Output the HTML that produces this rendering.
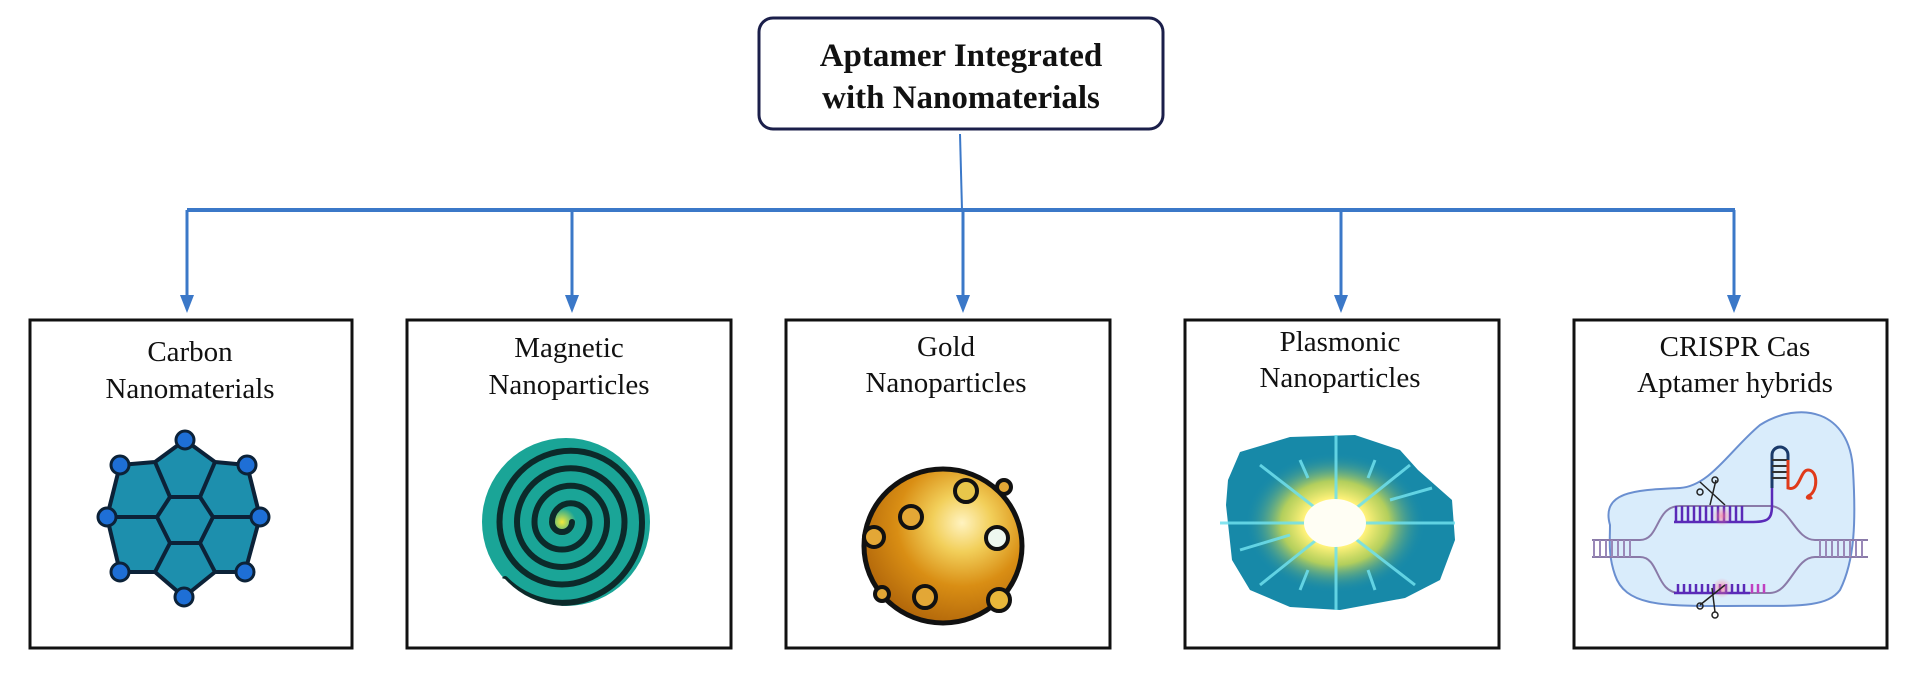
<!DOCTYPE html>
<html><head><meta charset="utf-8"><style>
html,body{margin:0;padding:0;background:#fff;}
svg{display:block;}
text{font-family:"Liberation Serif",serif;fill:#111;}
</style></head><body>
<svg width="1916" height="680" viewBox="0 0 1916 680" xmlns="http://www.w3.org/2000/svg">
<defs>
<radialGradient id="glow" cx="0.5" cy="0.5" r="0.5">
<stop offset="0" stop-color="#fffbe0"/><stop offset="0.35" stop-color="#fff27a"/><stop offset="0.6" stop-color="#d9e04a" stop-opacity="0.8"/><stop offset="1" stop-color="#1a8aa8" stop-opacity="0"/>
</radialGradient>
<radialGradient id="gold" cx="0.62" cy="0.35" r="0.75">
<stop offset="0" stop-color="#fff3c0"/><stop offset="0.25" stop-color="#f2cf5a"/><stop offset="0.55" stop-color="#d98e14"/><stop offset="1" stop-color="#a85d08"/>
</radialGradient>
<radialGradient id="spc" cx="0.5" cy="0.5" r="0.5">
<stop offset="0" stop-color="#f3ea3a"/><stop offset="1" stop-color="#1aa597"/>
</radialGradient>
<radialGradient id="pink" cx="0.5" cy="0.5" r="0.5"><stop offset="0" stop-color="#ff7a9a" stop-opacity="0.7"/><stop offset="1" stop-color="#ff7a9a" stop-opacity="0"/></radialGradient>
</defs>

<rect x="759" y="18" width="404" height="111" rx="14" fill="#fff" stroke="#1b1f4a" stroke-width="3"/>
<text x="961" y="66" font-size="33" font-weight="bold" text-anchor="middle">Aptamer Integrated</text>
<text x="961" y="108" font-size="33" font-weight="bold" text-anchor="middle">with Nanomaterials</text>

<g stroke="#3b78c8" fill="none">
<line x1="960" y1="134" x2="962" y2="210" stroke-width="2"/>
<line x1="187" y1="210" x2="1735" y2="210" stroke-width="4"/>
<g stroke-width="3">
<line x1="187" y1="210" x2="187" y2="300"/>
<line x1="572" y1="210" x2="572" y2="300"/>
<line x1="963" y1="210" x2="963" y2="300"/>
<line x1="1341" y1="210" x2="1341" y2="300"/>
<line x1="1734" y1="210" x2="1734" y2="300"/>
</g>
</g>
<g fill="#3b78c8">
<polygon points="180,295 194,295 187,313"/>
<polygon points="565,295 579,295 572,313"/>
<polygon points="956,295 970,295 963,313"/>
<polygon points="1334,295 1348,295 1341,313"/>
<polygon points="1727,295 1741,295 1734,313"/>
</g>

<g fill="#fff" stroke="#111" stroke-width="3">
<rect x="30" y="320" width="322" height="328"/>
<rect x="407" y="320" width="324" height="328"/>
<rect x="786" y="320" width="324" height="328"/>
<rect x="1185" y="320" width="314" height="328"/>
<rect x="1574" y="320" width="313" height="328"/>
</g>

<g font-size="29" text-anchor="middle">
<text x="190" y="361">Carbon</text><text x="190" y="398">Nanomaterials</text>
<text x="569" y="357">Magnetic</text><text x="569" y="394">Nanoparticles</text>
<text x="946" y="356">Gold</text><text x="946" y="392">Nanoparticles</text>
<text x="1340" y="351">Plasmonic</text><text x="1340" y="387">Nanoparticles</text>
<text x="1735" y="356">CRISPR Cas</text><text x="1735" y="392">Aptamer hybrids</text>
</g>

<!-- carbon -->
<g stroke="#0c2238" stroke-width="4" fill="#1d8fad" stroke-linejoin="round">
<polygon points="185,440 215,462 247,465 260,517 245,572 215,572 184,597 155,572 120,572 107,517 120,465 155,462"/>
<polygon points="157,517 170,497 200,497 213,517 200,543 170,543"/>
<g fill="none">
<polyline points="155,462 170,497"/><polyline points="215,462 200,497"/>
<polyline points="107,517 157,517"/><polyline points="213,517 260,517"/>
<polyline points="170,543 155,572"/><polyline points="200,543 215,572"/>
</g>
</g>
<g fill="#1e6fd6" stroke="#0c2238" stroke-width="3">
<circle cx="185" cy="440" r="9"/><circle cx="120" cy="465" r="9"/><circle cx="247" cy="465" r="9"/>
<circle cx="107" cy="517" r="9"/><circle cx="260" cy="517" r="9"/>
<circle cx="120" cy="572" r="9"/><circle cx="245" cy="572" r="9"/><circle cx="184" cy="597" r="9"/>
</g>

<!-- magnetic spiral -->
<circle cx="566" cy="522" r="84" fill="#1aa597"/>
<circle cx="562" cy="522" r="14" fill="url(#spc)"/>
<path d="M572,522 A10,10 0 0 1 552,522 A18.75,18.75 0 0 1 589.5,522 A27.5,27.5 0 0 1 534.5,522 A36.25,36.25 0 0 1 607,522 A45,45 0 0 1 517,522 A53.75,53.75 0 0 1 624.5,522 A62.5,62.5 0 0 1 499.5,522 A71.25,71.25 0 0 1 642,522 A80,80 0 0 1 505,579" fill="none" stroke="#0c2a2a" stroke-width="6" stroke-linecap="round"/>
<path d="M505,579 A84,84 0 0 0 562,606 L565,612 L490,612 L490,575 Z" fill="#fff"/>

<!-- gold -->
<ellipse cx="943" cy="546" rx="79" ry="77" fill="url(#gold)" stroke="#111" stroke-width="5"/>
<g stroke="#111" stroke-width="4" fill="#e3a736">
<circle cx="966" cy="491" r="11" fill="#e8c64a"/><circle cx="911" cy="517" r="11"/><circle cx="997" cy="538" r="11" fill="#eef8f0"/>
<circle cx="874" cy="537" r="10"/><circle cx="1004" cy="487" r="7"/><circle cx="925" cy="597" r="11"/><circle cx="999" cy="600" r="11" fill="#e8b73a"/><circle cx="882" cy="594" r="7"/>
</g>

<!-- plasmonic -->
<polygon points="1240,452 1290,437 1355,435 1400,450 1418,470 1452,500 1455,540 1440,580 1405,598 1340,610 1290,607 1250,590 1232,560 1226,505 1228,480" fill="#1789a8"/>
<ellipse cx="1335" cy="523" rx="90" ry="70" fill="url(#glow)"/>
<g stroke="#6fe0ee" stroke-width="3" opacity="0.85">
<line x1="1336" y1="435" x2="1336" y2="610"/><line x1="1220" y1="523" x2="1455" y2="523"/>
<line x1="1260" y1="465" x2="1415" y2="585"/><line x1="1410" y1="465" x2="1260" y2="585"/>
<line x1="1240" y1="550" x2="1290" y2="535"/><line x1="1390" y1="500" x2="1432" y2="488"/>
<line x1="1300" y1="460" x2="1308" y2="478"/><line x1="1375" y1="460" x2="1368" y2="478"/>
<line x1="1300" y1="590" x2="1308" y2="570"/><line x1="1375" y1="590" x2="1368" y2="570"/>
</g>
<ellipse cx="1335" cy="523" rx="31" ry="24" fill="#fffef4"/>

<!-- CRISPR -->
<path d="M1610,525 C1600,490 1640,490 1680,488 C1710,486 1730,450 1760,425 C1800,400 1850,410 1853,470 C1856,520 1855,560 1840,590 C1825,610 1790,605 1720,606 C1660,606 1625,605 1615,575 C1608,555 1610,540 1610,525 Z" fill="#d9ecfb" stroke="#6a8fd0" stroke-width="2"/>
<g stroke="#8a7aa8" stroke-width="2" fill="none">
<path d="M1592,540 L1640,540 C1660,540 1655,506 1680,506 L1770,506 C1790,506 1795,540 1815,540 L1868,540"/>
<path d="M1592,557 L1640,557 C1660,557 1655,593 1680,593 L1770,593 C1790,593 1795,557 1815,557 L1868,557"/>
</g>
<g stroke="#9a88b8" stroke-width="2">
<path d="M1594,540v17M1600,540v17M1606,540v17M1612,540v17M1618,540v17M1624,540v17M1630,540v17M1820,540v17M1826,540v17M1832,540v17M1838,540v17M1844,540v17M1850,540v17M1856,540v17M1862,540v17"/>
</g>
<g stroke="#5a2ab8" stroke-width="2.5" fill="none">
<path d="M1674,522 L1750,522 C1768,522 1772,520 1772,505 L1772,488"/>
<path d="M1676,506v16M1682,506v16M1688,506v16M1694,506v16M1700,506v16M1706,506v16M1712,506v16M1718,506v16M1724,506v16M1730,506v16M1736,506v16M1742,506v16"/>
<path d="M1674,593 L1750,593"/>
<path d="M1678,584v9M1684,584v9M1690,584v9M1696,584v9M1702,584v9M1708,584v9M1714,584v9M1720,584v9M1726,584v9M1732,584v9M1738,584v9M1744,584v9"/>
</g>
<path d="M1752,584v9M1758,584v9M1764,584v9" stroke="#c040c0" stroke-width="2.5"/>
<circle cx="1722" cy="516" r="10" fill="url(#pink)"/><circle cx="1722" cy="588" r="10" fill="url(#pink)"/>
<path d="M1772,488 L1772,455 A8,8 0 0 1 1788,455 L1788,488" fill="none" stroke="#1a3a6a" stroke-width="3"/>
<path d="M1772,460h16M1772,466h16M1772,472h16M1772,478h16" stroke="#333" stroke-width="2"/>
<path d="M1788,460 L1788,488 C1800,492 1800,470 1808,470 C1818,470 1818,490 1810,495 C1805,497 1808,500 1812,497" fill="none" stroke="#e03a1a" stroke-width="3"/>
<g stroke="#222" stroke-width="1.5" fill="none">
<line x1="1700" y1="482" x2="1725" y2="505"/><line x1="1716" y1="480" x2="1710" y2="505"/>
<circle cx="1700" cy="492" r="3"/><circle cx="1715" cy="480" r="3"/>
<line x1="1725" y1="585" x2="1700" y2="605"/><line x1="1712" y1="588" x2="1715" y2="612"/>
<circle cx="1700" cy="606" r="3"/><circle cx="1715" cy="615" r="3"/>
</g>
</svg>
</body></html>
